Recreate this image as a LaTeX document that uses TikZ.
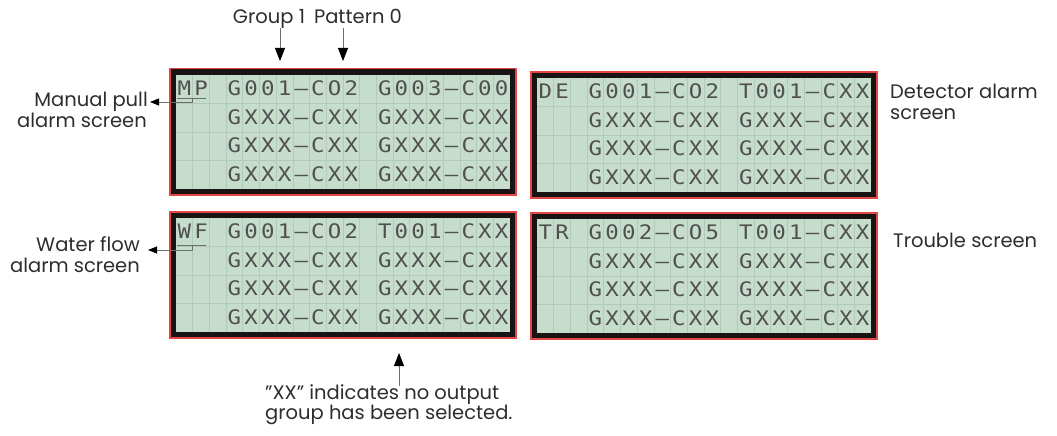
\documentclass[tikz,border=0pt]{standalone}
\usepackage{fontspec}
\setmainfont{Poppins}
\newfontfamily\lcdfont{DejaVu Sans Mono}
\usetikzlibrary{arrows.meta,calc}
\definecolor{lcdbg}{RGB}{198,220,204}
\definecolor{lcdgrid}{RGB}{178,202,186}
\definecolor{lcdtext}{RGB}{80,80,80}
\definecolor{bezel}{RGB}{25,20,20}
\definecolor{rim}{RGB}{228,70,70}
\definecolor{labeltext}{RGB}{45,45,45}
\definecolor{linegray}{RGB}{110,110,110}
\tikzset{
  screenframe/.style={draw=rim, fill=bezel, line width=1.5pt, minimum width=346pt, minimum height=126pt, inner sep=0pt, anchor=north west},
  lcdchar/.style={font=\lcdfont\fontsize{20}{20}\selectfont, text=lcdtext, inner sep=0pt, anchor=base, xscale=1.12},
  lbl/.style={font=\fontsize{19.5}{19.5}\selectfont, text=labeltext, inner sep=0pt},
  bigarrow/.style={draw=linegray, line width=0.8pt, -{Triangle[length=13pt,width=10pt,color=black]}},
  smallarrow/.style={draw=linegray, line width=0.8pt, -{Triangle[length=9pt,width=7pt,color=black]}},
  conn/.style={draw=linegray, line width=0.8pt}
}
\newcommand\lcdrow[3]{%
  \foreach \ch [count=\k from 0] in {#3} {%
    \node[lcdchar] (#1-#2-\k) at ($(#1.north west)+(7+\k*16.7+8.35, 7+#2*28.5+20.5)$) {\ch};
  }%
}
\newcommand\lcdscreen[4]{%
  \node[screenframe] (#1) at (#2,#3) {};
  \fill[lcdbg] ($(#1.north west)+(7,7)$) rectangle ($(#1.south east)+(-7,-7)$);
  \foreach \k in {1,...,19} \draw[lcdgrid, line width=0.7pt] ($(#1.north west)+(7+\k*16.7,7)$) -- ++(0,114);
  \foreach \r in {1,2,3} \draw[lcdgrid, line width=0.7pt] ($(#1.north west)+(7,7+\r*28.5)$) -- ++(334,0);
  \lcdrow{#1}{0}{#4}
  \lcdrow{#1}{1}{,,,G,X,X,X,–,C,X,X,,G,X,X,X,–,C,X,X}
  \lcdrow{#1}{2}{,,,G,X,X,X,–,C,X,X,,G,X,X,X,–,C,X,X}
  \lcdrow{#1}{3}{,,,G,X,X,X,–,C,X,X,,G,X,X,X,–,C,X,X}
}
\begin{document}
\begin{tikzpicture}[x=1pt, y=-1pt]
\useasboundingbox (0,0) rectangle (1057,436);
\lcdscreen{A}{169}{68}{M,P,,G,0,0,1,–,C,O,2,,G,0,0,3,–,C,0,0}
\lcdscreen{B}{530}{71}{D,E,,G,0,0,1,–,C,O,2,,T,0,0,1,–,C,X,X}
\lcdscreen{C}{169}{211}{W,F,,G,0,0,1,–,C,O,2,,T,0,0,1,–,C,X,X}
\lcdscreen{D}{530}{212}{T,R,,G,0,0,2,–,C,O,5,,T,0,0,1,–,C,X,X}

% top labels
\node[lbl, anchor=base] (grp) at (269,24) {Group 1};
\node[lbl, anchor=base] (pat) at (358,24) {Pattern 0};
\coordinate (grpS) at (280,28);
\coordinate (grpE) at (280,61);
\coordinate (patS) at (343,28);
\coordinate (patE) at (343,61);
\draw[bigarrow] (grpS) -- (grpE);
\draw[bigarrow] (patS) -- (patE);

% left labels
\node[lbl, anchor=base east] (mp1) at (148,106) {Manual pull};
\node[lbl, anchor=base east] (mp2) at (147,127) {alarm screen};
\coordinate (mpA) at (177,98);
\coordinate (mpB) at (206,98);
\coordinate (mpK) at (192,98);
\coordinate (mpT) at (150,102);
\draw[conn] (mpA) -- (mpB);
\draw[smallarrow] (mpK) -- (mpK|-mpT) -- (mpT);

\node[lbl, anchor=base east] (wf1) at (140,251) {Water flow};
\node[lbl, anchor=base east] (wf2) at (140,272) {alarm screen};
\coordinate (wfA) at (177,245);
\coordinate (wfB) at (206,245);
\coordinate (wfK) at (192,245);
\coordinate (wfT) at (148,250);
\draw[conn] (wfA) -- (wfB);
\draw[smallarrow] (wfK) -- (wfK|-wfT) -- (wfT);

% right labels
\node[lbl, anchor=base west] (de1) at (890,99) {Detector alarm};
\node[lbl, anchor=base west] (de2) at (890,119) {screen};
\node[lbl, anchor=base west] (tr1) at (893,247) {Trouble screen};

% bottom note
\node[lbl, anchor=base west] (xx1) at (265,399) {\symbol{34}XX\symbol{34} indicates no output};
\node[lbl, anchor=base west] (xx2) at (265,419) {group has been selected.};
\coordinate (xxS) at (399,386);
\coordinate (xxE) at (399,353);
\draw[bigarrow] (xxS) -- (xxE);
\end{tikzpicture}
\end{document}
